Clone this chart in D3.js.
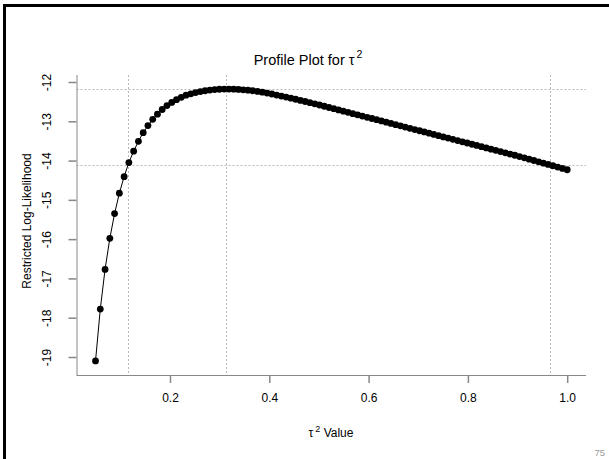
<!DOCTYPE html>
<html>
<head>
<meta charset="utf-8">
<script src="https://cdn.jsdelivr.net/npm/d3@7"></script>
<style>
  html, body { margin: 0; padding: 0; background: #fff; }
  svg { display: block; font-family: "Liberation Sans", Arial, Helvetica, sans-serif; }
</style>
</head>
<body>
<svg id="chart" width="609" height="459"></svg>
<script>
// ---- data ----
const tauValues = [
  0.0500, 0.0596, 0.0692, 0.0788, 0.0884, 0.0980, 0.1076, 0.1172, 0.1268, 0.1364,
  0.1460, 0.1556, 0.1652, 0.1747, 0.1843, 0.1939, 0.2035, 0.2131, 0.2227, 0.2323,
  0.2419, 0.2515, 0.2611, 0.2707, 0.2803, 0.2899, 0.2995, 0.3091, 0.3187, 0.3283,
  0.3379, 0.3475, 0.3571, 0.3667, 0.3763, 0.3859, 0.3955, 0.4051, 0.4146, 0.4242,
  0.4338, 0.4434, 0.4530, 0.4626, 0.4722, 0.4818, 0.4914, 0.5010, 0.5106, 0.5202,
  0.5298, 0.5394, 0.5490, 0.5586, 0.5682, 0.5778, 0.5874, 0.5970, 0.6066, 0.6162,
  0.6258, 0.6354, 0.6449, 0.6545, 0.6641, 0.6737, 0.6833, 0.6929, 0.7025, 0.7121,
  0.7217, 0.7313, 0.7409, 0.7505, 0.7601, 0.7697, 0.7793, 0.7889, 0.7985, 0.8081,
  0.8177, 0.8273, 0.8369, 0.8465, 0.8561, 0.8657, 0.8753, 0.8848, 0.8944, 0.9040,
  0.9136, 0.9232, 0.9328, 0.9424, 0.9520, 0.9616, 0.9712, 0.9808, 0.9904, 1.0000
];
const logLikValues = [
  -19.10, -17.78, -16.77, -15.98, -15.35, -14.83, -14.41, -14.05, -13.76, -13.51,
  -13.29, -13.11, -12.95, -12.82, -12.70, -12.60, -12.52, -12.45, -12.39, -12.335,
  -12.30, -12.27, -12.244, -12.223, -12.205, -12.193, -12.184, -12.180, -12.180, -12.183,
  -12.189, -12.198, -12.209, -12.223, -12.240, -12.259, -12.282, -12.306, -12.332, -12.358,
  -12.384, -12.412, -12.439, -12.468, -12.496, -12.526, -12.556, -12.586, -12.617, -12.649,
  -12.680, -12.711, -12.742, -12.773, -12.805, -12.836, -12.867, -12.898, -12.929, -12.960,
  -12.992, -13.023, -13.054, -13.085, -13.116, -13.147, -13.179, -13.210, -13.241, -13.272,
  -13.303, -13.335, -13.366, -13.397, -13.428, -13.459, -13.491, -13.522, -13.553, -13.584,
  -13.615, -13.646, -13.678, -13.709, -13.740, -13.771, -13.802, -13.834, -13.865, -13.897,
  -13.931, -13.964, -13.998, -14.031, -14.065, -14.099, -14.132, -14.166, -14.199, -14.233
];
const xTicks = [0.2, 0.4, 0.6, 0.8, 1.0];
const yTicks = [-19, -18, -17, -16, -15, -14, -13, -12];
const refTau = [0.115, 0.313, 0.965];      // CI bounds and maximum
const refLogLik = [-12.18, -14.12];        // maximum and cut-off
const titleMain = "Profile Plot for τ";
const titleSup = "2";
const xLabelMain = "τ";
const xLabelSup = "2";
const xLabelRest = " Value";
const yLabel = "Restricted Log-Likelihood";
const pageNumber = "75";

// ---- layout ----
const svg = d3.select("#chart");
const plot = { left: 76.5, right: 586, top: 75, bottom: 375 };

const x = d3.scaleLinear().domain([0.2, 1.0]).range([170, 567.2]);
const y = d3.scaleLinear().domain([-19, -12]).range([357, 82]);

const data = tauValues.map((t, i) => ({ t, ll: logLikValues[i] }));

// slide frame (top and left edges)
svg.append("rect").attr("x", 3).attr("y", 4).attr("width", 606).attr("height", 3).attr("fill", "#000");
svg.append("rect").attr("x", 3).attr("y", 4).attr("width", 3).attr("height", 455).attr("fill", "#000");

// reference lines
const gRef = svg.append("g").attr("stroke", "#b8b8b8").attr("stroke-width", 1).attr("stroke-dasharray", "2,2").attr("fill", "none");
gRef.selectAll("line.h").data(refLogLik).join("line")
  .attr("class", "h")
  .attr("x1", plot.left).attr("x2", plot.right)
  .attr("y1", d => Math.round(y(d)) + 0.5).attr("y2", d => Math.round(y(d)) + 0.5);
gRef.selectAll("line.v").data(refTau).join("line")
  .attr("class", "v")
  .attr("x1", d => Math.round(x(d)) + 0.5).attr("x2", d => Math.round(x(d)) + 0.5)
  .attr("y1", plot.top).attr("y2", plot.bottom);

// axes
const axisColor = "#888";
const xAxis = svg.append("g").attr("transform", `translate(0,${plot.bottom})`)
  .call(d3.axisBottom(x).tickValues(xTicks).tickFormat(d3.format(".1f")).tickSize(8).tickSizeOuter(0).tickPadding(10));
xAxis.select(".domain").remove();
xAxis.append("line").attr("x1", plot.left).attr("x2", plot.right).attr("y1", 0.5).attr("y2", 0.5)
  .attr("stroke", axisColor).attr("stroke-width", 1);
xAxis.selectAll(".tick line").attr("stroke", axisColor).attr("stroke-width", 1.5);
xAxis.selectAll(".tick text").attr("fill", "#000").attr("font-size", 12)
  .attr("font-family", "Liberation Sans, Arial, sans-serif");

const yAxis = svg.append("g").attr("transform", `translate(${plot.left},0)`)
  .call(d3.axisLeft(y).tickValues(yTicks).tickFormat(d3.format("d")).tickSize(8).tickSizeOuter(0));
yAxis.select(".domain").remove();
yAxis.append("line").attr("x1", 0.5).attr("x2", 0.5).attr("y1", plot.top).attr("y2", plot.bottom)
  .attr("stroke", axisColor).attr("stroke-width", 1);
yAxis.selectAll(".tick line").attr("stroke", axisColor).attr("stroke-width", 1.5);
yAxis.selectAll(".tick text")
  .attr("fill", "#000").attr("font-size", 12).attr("font-family", "Liberation Sans, Arial, sans-serif")
  .attr("x", null).attr("dy", null)
  .attr("text-anchor", "middle")
  .attr("dominant-baseline", "central")
  .attr("transform", `translate(${47 - plot.left},0) rotate(-90)`)
  .text(d => d3.format("d")(d).replace("−", "-"));

// line and points
svg.append("path").datum(data)
  .attr("fill", "none").attr("stroke", "#000").attr("stroke-width", 1)
  .attr("d", d3.line().x(d => x(d.t)).y(d => y(d.ll)));
svg.append("g").selectAll("circle").data(data).join("circle")
  .attr("cx", d => x(d.t)).attr("cy", d => y(d.ll)).attr("r", 3.4).attr("fill", "#000");

// title
const title = svg.append("text").attr("x", 308).attr("y", 65).attr("text-anchor", "middle")
  .attr("font-size", 14.5).attr("fill", "#000");
title.append("tspan").text(titleMain);
title.append("tspan").attr("dx", 2).attr("dy", -7).attr("font-size", 10.5).text(titleSup);

// x label
const xl = svg.append("text").attr("x", 331).attr("y", 437).attr("text-anchor", "middle")
  .attr("font-size", 12).attr("fill", "#000");
xl.append("tspan").text(xLabelMain);
xl.append("tspan").attr("dx", 2).attr("dy", -5).attr("font-size", 9).text(xLabelSup);
xl.append("tspan").attr("dy", 5).text(xLabelRest);

// y label
svg.append("text").attr("transform", "translate(27,221) rotate(-90)")
  .attr("text-anchor", "middle").attr("dominant-baseline", "central")
  .attr("font-size", 12).attr("fill", "#000").text(yLabel);

// page number
svg.append("text").attr("x", 605).attr("y", 456).attr("text-anchor", "end")
  .attr("font-size", 9.5).attr("fill", "#999").text(pageNumber);
</script>
</body>
</html>
